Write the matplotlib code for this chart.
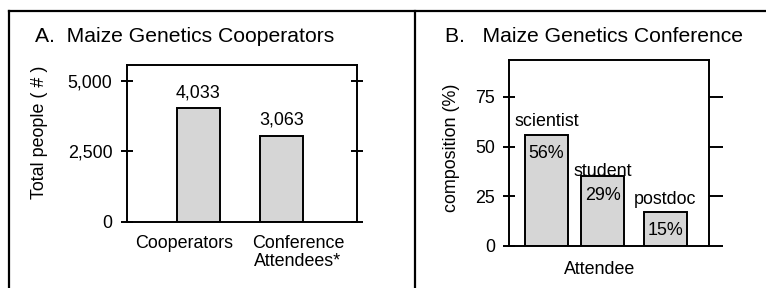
import matplotlib
matplotlib.use('Agg')
from matplotlib import pyplot as plt
from matplotlib.lines import Line2D

plt.rcParams['font.family'] = ['Liberation Sans', 'DejaVu Sans']

# panel A data
coop_cats = ['Cooperators', 'Conference\nAttendees*']
coop_vals = [4033, 3063]
coop_ticks = [0, 2500, 5000]
coop_tick_labels = ['0', '2,500', '5,000']

# panel B data
att_cats = ['scientist', 'student', 'postdoc']
att_vals = [56, 35, 17]
att_pct_labels = ['56%', '29%', '15%']
att_ticks = [0, 25, 50, 75]

W, H = 766, 288
BAR_COLOR = '#d6d6d6'
LW = 1.4
FS = 12.9
TFS = 15.2


def px(x, y):
    # pixel position -> figure fraction
    return x / W, 1 - y / H


fig = plt.figure(figsize=(W / 100, H / 100), dpi=100)

# outer frame (cropped) and divider
for xs, ys in [((9, W), (11, 11)), ((9, 9), (11, H)), ((415, 415), (11, H))]:
    p0, p1 = px(xs[0], ys[0]), px(xs[1], ys[1])
    fig.add_artist(Line2D([p0[0], p1[0]], [p0[1], p1[1]], color='black', lw=1.6))


def style_axes(ax):
    for s in ax.spines.values():
        s.set_linewidth(LW)
    ax.tick_params(axis='x', length=0, labelsize=FS, pad=9)
    ax.tick_params(axis='y', labelsize=FS, width=LW)


# ---- A. Maize Genetics Cooperators ----
axA = fig.add_axes([127 / W, 1 - 222 / H, 230 / W, 157 / H])
coop_pos = [0, 1]
axA.bar(coop_pos, coop_vals, width=0.52, color=BAR_COLOR, edgecolor='black', linewidth=LW)
axA.set_xlim(-0.857, 1.904)
axA.set_ylim(0, 5560)
style_axes(axA)
axA.set_yticks(coop_ticks, coop_tick_labels)
axA.tick_params(axis='y', direction='inout', length=9, pad=6, right=True)
coop_shift = [-0.173, 0.196]
axA.set_xticks([p + d for p, d in zip(coop_pos, coop_shift)], coop_cats, linespacing=1.1)
for p, v in zip(coop_pos, coop_vals):
    axA.annotate(f'{v:,}', (p, v), xytext=(0, 5), textcoords='offset points',
                 ha='center', va='bottom', fontsize=FS)
fig.text(*px(40, 132), 'Total people ( # )', rotation=90, ha='center', va='center', fontsize=FS)
fig.text(*px(35, 42), 'A.  Maize Genetics Cooperators', ha='left', va='baseline', fontsize=TFS)

# ---- B. Maize Genetics Conference ----
axB = fig.add_axes([509 / W, 1 - 246 / H, 200 / W, 186 / H])
att_pos = [0, 1, 2.12]
axB.bar(att_pos, att_vals, width=0.77, color=BAR_COLOR, edgecolor='black', linewidth=LW)
axB.set_xlim(-0.67, 2.9)
axB.set_ylim(0, 93.6)
style_axes(axB)
axB.set_xticks([])
axB.set_yticks(att_ticks)
axB.tick_params(axis='y', direction='inout', length=8, pad=6)
twin = axB.twinx()
twin.set_ylim(axB.get_ylim())
twin.set_yticks(att_ticks)
twin.tick_params(axis='y', direction='out', length=10, width=LW, labelright=False)
for s in twin.spines.values():
    s.set_visible(False)

name_offset = [6, 0.5, 6]
for p, v, name, pct, off in zip(att_pos, att_vals, att_cats, att_pct_labels, name_offset):
    axB.annotate(name, (p, v), xytext=(0, off), textcoords='offset points',
                 ha='center', va='baseline', fontsize=FS)
    axB.annotate(pct, (p, v), xytext=(0, -13.5), textcoords='offset points',
                 ha='center', va='center', fontsize=FS)
fig.text(*px(600, 270), 'Attendee', ha='center', va='center', fontsize=FS)
fig.text(*px(452, 148), 'composition (%)', rotation=90, ha='center', va='center', fontsize=FS)
fig.text(*px(445, 42), 'B.   Maize Genetics Conference', ha='left', va='baseline', fontsize=TFS)

fig.savefig('out.png', dpi=100)
